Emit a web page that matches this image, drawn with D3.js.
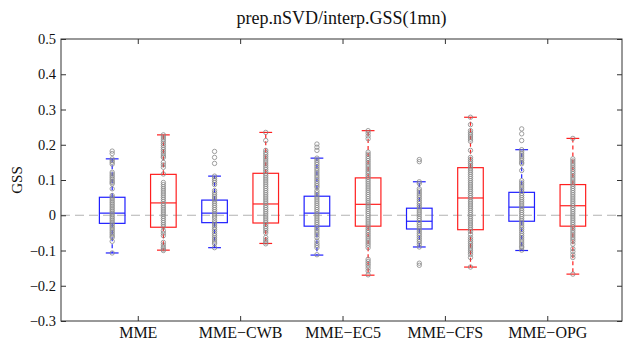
<!DOCTYPE html>
<html>
<head>
<meta charset="utf-8">
<script src="https://cdn.jsdelivr.net/npm/d3@7"></script>
<style>
  body { margin: 0; background: #fff; }
  svg text { font-family: "Liberation Serif", "Times New Roman", serif; }
</style>
</head>
<body>
<div id="chart"></div>
<script>
const categories = ['MME', 'MME\u2212CWB', 'MME\u2212EC5', 'MME\u2212CFS', 'MME\u2212OPG'];
const yTicks = [0.5, 0.4, 0.3, 0.2, 0.1, 0, -0.1, -0.2, -0.3];

// box statistics (blue = left box, red = right box)
const blueHigh = [0.160, 0.111, 0.162, 0.095, 0.186];
const blueQ3 = [0.051, 0.043, 0.054, 0.020, 0.065];
const blueMed = [0.006, 0.006, 0.006, -0.017, 0.023];
const blueQ1 = [-0.023, -0.021, -0.031, -0.039, -0.017];
const blueLow = [-0.107, -0.092, -0.113, -0.090, -0.100];

const redHigh = [0.228, 0.235, 0.240, 0.278, 0.218];
const redQ3 = [0.116, 0.119, 0.106, 0.135, 0.087];
const redMed = [0.035, 0.032, 0.031, 0.049, 0.027];
const redQ1 = [-0.034, -0.022, -0.031, -0.041, -0.031];
const redLow = [-0.099, -0.080, -0.170, -0.147, -0.167];

// individual scores drawn as circles over each box
const bluePts = [
  [0.182, 0.175, 0.160, 0.155, 0.150, 0.145, 0.122, 0.117, 0.112, 0.107, 0.102, 0.097, 0.093, 0.089, 0.075, 0.056, 0.051, 0.046, 0.041, 0.036, 0.031, 0.026, 0.021, 0.016, 0.011, 0.006, 0.001, -0.004, -0.009, -0.014, -0.019, -0.024, -0.029, -0.034, -0.039, -0.044, -0.049, -0.054, -0.059, -0.063, -0.074, -0.107],
  [0.181, 0.164, 0.147, 0.111, 0.105, 0.099, 0.093, 0.087, 0.070, 0.064, 0.058, 0.052, 0.046, 0.040, 0.034, 0.028, 0.022, 0.016, 0.010, 0.004, -0.002, -0.008, -0.016, -0.022, -0.028, -0.034, -0.040, -0.046, -0.052, -0.058, -0.064, -0.070, -0.076, -0.081, -0.092],
  [0.202, 0.193, 0.184, 0.162, 0.156, 0.150, 0.144, 0.138, 0.132, 0.126, 0.120, 0.114, 0.108, 0.102, 0.096, 0.090, 0.084, 0.079, 0.070, 0.064, 0.058, 0.052, 0.046, 0.040, 0.034, 0.028, 0.022, 0.016, 0.010, 0.004, -0.002, -0.008, -0.014, -0.020, -0.026, -0.032, -0.038, -0.044, -0.050, -0.056, -0.063, -0.073, -0.080, -0.086, -0.092, -0.112],
  [0.158, 0.152, 0.095, 0.090, 0.075, 0.069, 0.063, 0.057, 0.051, 0.045, 0.039, 0.033, 0.027, 0.021, 0.015, 0.009, 0.003, -0.003, -0.009, -0.015, -0.021, -0.027, -0.033, -0.039, -0.045, -0.051, -0.057, -0.063, -0.069, -0.075, -0.082, -0.090, -0.136, -0.142],
  [0.245, 0.231, 0.212, 0.186, 0.180, 0.174, 0.168, 0.162, 0.156, 0.150, 0.146, 0.127, 0.098, 0.092, 0.086, 0.080, 0.074, 0.068, 0.062, 0.056, 0.050, 0.044, 0.038, 0.032, 0.026, 0.020, 0.014, 0.008, 0.002, -0.004, -0.010, -0.016, -0.022, -0.028, -0.034, -0.040, -0.046, -0.052, -0.058, -0.064, -0.070, -0.076, -0.082, -0.088, -0.092, -0.099]
];
const redPts = [
  [0.228, 0.222, 0.216, 0.210, 0.204, 0.198, 0.192, 0.186, 0.180, 0.174, 0.168, 0.164, 0.150, 0.143, 0.136, 0.117, 0.093, 0.087, 0.081, 0.075, 0.069, 0.063, 0.057, 0.051, 0.045, 0.039, 0.033, 0.027, 0.021, 0.015, 0.009, 0.003, -0.003, -0.009, -0.015, -0.021, -0.027, -0.033, -0.044, -0.051, -0.058, -0.077, -0.084, -0.091, -0.096, -0.100],
  [0.235, 0.212, 0.184, 0.178, 0.172, 0.166, 0.160, 0.154, 0.148, 0.142, 0.136, 0.130, 0.124, 0.118, 0.112, 0.106, 0.100, 0.094, 0.088, 0.082, 0.076, 0.070, 0.064, 0.058, 0.052, 0.046, 0.040, 0.034, 0.028, 0.022, 0.016, 0.010, 0.004, -0.002, -0.008, -0.014, -0.020, -0.026, -0.032, -0.038, -0.044, -0.050, -0.063, -0.070, -0.076, -0.081],
  [0.240, 0.233, 0.225, 0.217, 0.179, 0.173, 0.167, 0.161, 0.155, 0.149, 0.143, 0.137, 0.131, 0.125, 0.119, 0.113, 0.107, 0.101, 0.095, 0.089, 0.083, 0.077, 0.071, 0.065, 0.059, 0.053, 0.047, 0.041, 0.035, 0.029, 0.023, 0.017, 0.011, 0.005, -0.001, -0.007, -0.013, -0.019, -0.025, -0.031, -0.037, -0.043, -0.049, -0.055, -0.061, -0.067, -0.073, -0.079, -0.085, -0.092, -0.125, -0.131, -0.137, -0.143, -0.150, -0.158, -0.169],
  [0.278, 0.257, 0.240, 0.234, 0.228, 0.222, 0.216, 0.210, 0.184, 0.164, 0.158, 0.152, 0.146, 0.140, 0.134, 0.128, 0.122, 0.116, 0.110, 0.104, 0.098, 0.092, 0.086, 0.080, 0.074, 0.068, 0.062, 0.056, 0.050, 0.044, 0.038, 0.032, 0.026, 0.020, 0.014, 0.008, 0.002, -0.004, -0.010, -0.016, -0.022, -0.028, -0.034, -0.040, -0.046, -0.054, -0.063, -0.069, -0.075, -0.081, -0.087, -0.093, -0.099, -0.105, -0.111, -0.120, -0.147],
  [0.218, 0.160, 0.154, 0.148, 0.142, 0.136, 0.130, 0.124, 0.118, 0.112, 0.106, 0.100, 0.094, 0.088, 0.082, 0.076, 0.070, 0.064, 0.058, 0.052, 0.046, 0.040, 0.034, 0.028, 0.022, 0.016, 0.010, 0.004, -0.002, -0.008, -0.014, -0.020, -0.026, -0.032, -0.038, -0.044, -0.050, -0.056, -0.062, -0.068, -0.074, -0.082, -0.095, -0.103, -0.112, -0.120, -0.167]
];

const width = 623, height = 349;
const margin = { top: 39, right: 1, bottom: 28, left: 61 };
const plotW = width - margin.left - margin.right;
const plotH = height - margin.top - margin.bottom;

const svg = d3.select('#chart').append('svg')
  .attr('width', width)
  .attr('height', height);

const x = d3.scaleLinear().domain([0.25, 5.73]).range([margin.left, margin.left + plotW]);
const y = d3.scaleLinear().domain([-0.3, 0.5]).range([margin.top + plotH, margin.top]);

// zero reference line
svg.append('line')
  .attr('x1', x(0.25)).attr('x2', x(5.73))
  .attr('y1', y(0)).attr('y2', y(0))
  .attr('stroke', '#b3b3b3')
  .attr('stroke-width', 1.2)
  .attr('stroke-dasharray', '9,5');

const boxes = [];
categories.forEach((c, i) => {
  boxes.push({ pos: i + 1 - 0.25, color: '#1f1fff', hi: blueHigh[i], q3: blueQ3[i], med: blueMed[i], q1: blueQ1[i], lo: blueLow[i], pts: bluePts[i] });
  boxes.push({ pos: i + 1 + 0.25, color: '#ff1f1f', hi: redHigh[i], q3: redQ3[i], med: redMed[i], q1: redQ1[i], lo: redLow[i], pts: redPts[i] });
});

const boxW = x(0.25 + 0.25) - x(0.25);

const g = svg.selectAll('g.box')
  .data(boxes)
  .enter()
  .append('g')
  .attr('class', 'box')
  .attr('stroke', d => d.color)
  .attr('fill', 'none')
  .attr('stroke-width', 1.2);

// whiskers
g.append('line')
  .attr('x1', d => x(d.pos)).attr('x2', d => x(d.pos))
  .attr('y1', d => y(d.q3)).attr('y2', d => y(d.hi))
  .attr('stroke-dasharray', '4,3');
g.append('line')
  .attr('x1', d => x(d.pos)).attr('x2', d => x(d.pos))
  .attr('y1', d => y(d.q1)).attr('y2', d => y(d.lo))
  .attr('stroke-dasharray', '4,3');
g.append('line')
  .attr('x1', d => x(d.pos) - boxW / 4).attr('x2', d => x(d.pos) + boxW / 4)
  .attr('y1', d => y(d.hi)).attr('y2', d => y(d.hi));
g.append('line')
  .attr('x1', d => x(d.pos) - boxW / 4).attr('x2', d => x(d.pos) + boxW / 4)
  .attr('y1', d => y(d.lo)).attr('y2', d => y(d.lo));

g.append('rect')
  .attr('x', d => x(d.pos) - boxW / 2)
  .attr('y', d => y(d.q3))
  .attr('width', boxW)
  .attr('height', d => y(d.q1) - y(d.q3));
g.append('line')
  .attr('x1', d => x(d.pos) - boxW / 2).attr('x2', d => x(d.pos) + boxW / 2)
  .attr('y1', d => y(d.med)).attr('y2', d => y(d.med));

// score circles
g.selectAll('circle')
  .data(d => d.pts.map(v => ({ pos: d.pos, v })))
  .enter()
  .append('circle')
  .attr('cx', d => x(d.pos))
  .attr('cy', d => y(d.v))
  .attr('r', 2.2)
  .attr('stroke', '#888')
  .attr('stroke-width', 0.8)
  .attr('fill', 'none');

// axes with inward ticks
const fmt = d => d === 0 ? '0' : d3.format('.1f')(d);
const tickLen = 5;

const yAxis = svg.append('g')
  .attr('transform', `translate(${margin.left},0)`)
  .call(d3.axisLeft(y).tickValues(yTicks).tickFormat(fmt).tickSize(-tickLen).tickSizeOuter(0).tickPadding(5));
svg.append('g')
  .attr('transform', `translate(${margin.left + plotW},0)`)
  .call(d3.axisRight(y).tickValues(yTicks).tickFormat('').tickSize(-tickLen).tickSizeOuter(0));

const xAxis = svg.append('g')
  .attr('transform', `translate(0,${margin.top + plotH})`)
  .call(d3.axisBottom(x).tickValues([1, 2, 3, 4, 5]).tickFormat((d, i) => categories[i]).tickSize(-tickLen).tickSizeOuter(0).tickPadding(6));
svg.append('g')
  .attr('transform', `translate(0,${margin.top})`)
  .call(d3.axisTop(x).tickValues([1, 2, 3, 4, 5]).tickFormat('').tickSize(-tickLen).tickSizeOuter(0));

svg.selectAll('.domain').remove();
svg.selectAll('.tick line').attr('stroke', '#333');
yAxis.selectAll('text').style('font-size', '14.5px').attr('fill', '#111');
xAxis.selectAll('text').style('font-size', '16px').attr('fill', '#111');

// frame
svg.append('rect')
  .attr('x', margin.left)
  .attr('y', margin.top)
  .attr('width', plotW)
  .attr('height', plotH)
  .attr('fill', 'none')
  .attr('stroke', '#333')
  .attr('stroke-width', 1);

svg.append('text')
  .attr('x', margin.left + plotW / 2)
  .attr('y', 24)
  .attr('text-anchor', 'middle')
  .style('font-size', '18px')
  .attr('fill', '#111')
  .text('prep.nSVD/interp.GSS(1mn)');

svg.append('text')
  .attr('transform', `translate(22,${margin.top + plotH / 2}) rotate(-90)`)
  .attr('text-anchor', 'middle')
  .style('font-size', '15px')
  .attr('fill', '#111')
  .text('GSS');
</script>
</body>
</html>
